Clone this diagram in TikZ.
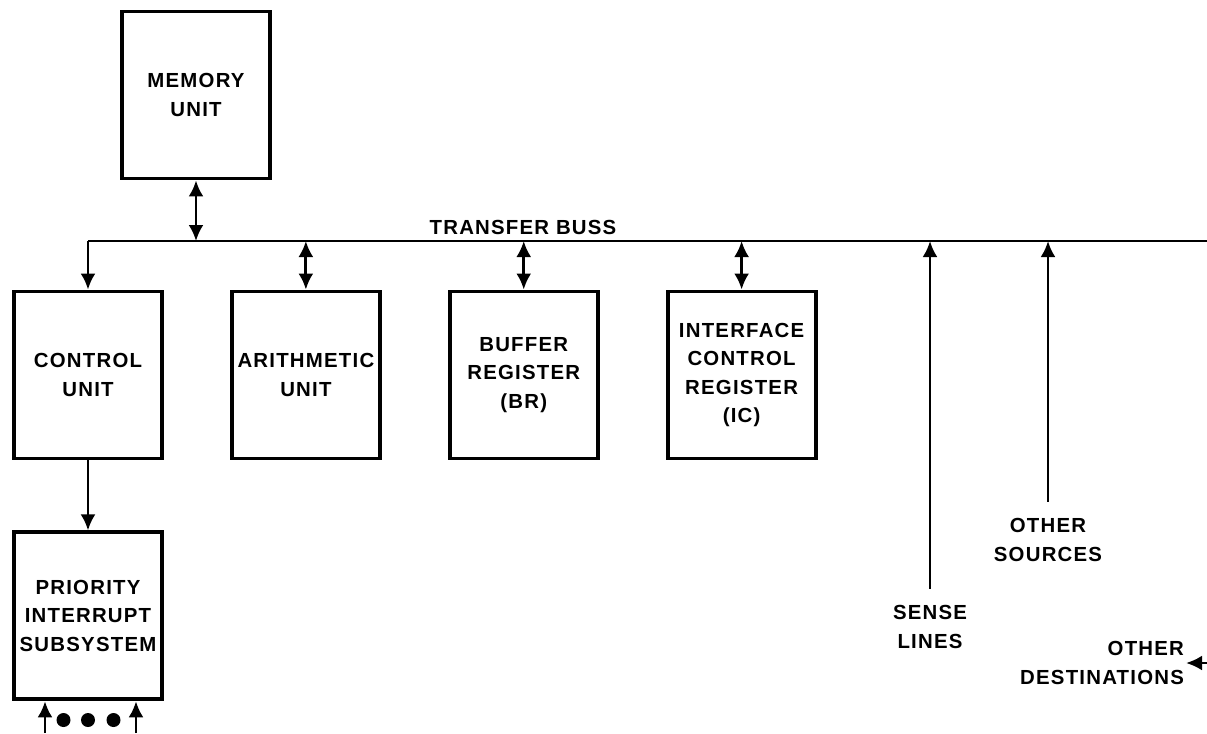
\documentclass[tikz,border=0pt]{standalone}
\usepackage{fontspec}
\setmainfont{Liberation Sans}[LetterSpace=6]
\usetikzlibrary{arrows.meta,positioning}
\newcommand{\unitfont}{\fontsize{11.6}{16}\selectfont\bfseries}
\tikzset{
  %% unit block
  ublk/.style={rectangle,draw,line width=2.2pt,
    minimum width=2.96cm,minimum height=3.34cm,
    font=\unitfont,align=center,inner sep=0pt},
  %% free label
  lbl/.style={font=\unitfont,align=center,inner sep=1pt},
  %% bus line
  bus/.style={line width=1.5pt},
  %% arrows
  arr/.style={-{Latex[length=0.32cm,width=0.3cm]},line width=1.6pt},
  darr/.style={{Latex[length=0.32cm,width=0.3cm]}-{Latex[length=0.32cm,width=0.3cm]},line width=1.6pt},
}
\begin{document}
\begin{tikzpicture}[node distance=1.4cm and 1.32cm]
  \useasboundingbox (0,0) rectangle (24.14,-14.66);

  %% units
  \node[ublk] (mem) at (3.92,-1.9) {MEMORY\\UNIT};
  \node[ublk] (ctrl) at (1.76,-7.5) {CONTROL\\UNIT};
  \node[ublk,right=of ctrl] (arith) {ARITHMETIC\\UNIT};
  \node[ublk,right=of arith] (buf) {BUFFER\\REGISTER\\(BR)};
  \node[ublk,right=of buf] (ifc) {INTERFACE\\CONTROL\\REGISTER\\(IC)};
  \node[ublk,below=of ctrl] (prio) {PRIORITY\\INTERRUPT\\SUBSYSTEM};

  %% transfer buss
  \coordinate (busy) at (0,-4.82);
  \coordinate (busr) at (24.14,-4.82);
  \draw[bus] (ctrl.north |- busy) -- (busr);
  \node[lbl,anchor=south] (bustxt) at (10.46,-4.74) {TRANSFER BUSS};

  %% bus connections
  \draw[darr] (mem) -- (mem.south |- busy);
  \draw[arr] (ctrl.north |- busy) -- (ctrl);
  \foreach \u in {arith,buf,ifc}
    \draw[darr] (\u.north |- busy) -- (\u);
  \draw[arr] (ctrl) -- (prio);

  %% sense lines and other sources
  \node[lbl] (sense) at (18.6,-12.54) {SENSE\\LINES};
  \node[lbl] (src) at (20.96,-10.8) {OTHER\\SOURCES};
  \draw[arr] ([yshift=0.3cm]sense.north) -- (sense.north |- busy);
  \draw[arr] ([yshift=0.3cm]src.north) -- (src.north |- busy);

  %% other destinations
  \node[lbl,align=right,anchor=east] (dest) at (23.72,-13.26) {OTHER\\DESTINATIONS};
  \draw[arr] (dest.east -| busr) -- (dest.east);

  %% interrupt inputs
  \coordinate (inl) at (0.9,-14.66);
  \coordinate (inr) at (2.72,-14.66);
  \draw[arr] (inl) -- (inl |- prio.south);
  \draw[arr] (inr) -- (inr |- prio.south);
  \foreach \x in {1.27,1.76,2.27}
    \fill (\x,-14.4) circle (0.14);

\end{tikzpicture}
\end{document}
